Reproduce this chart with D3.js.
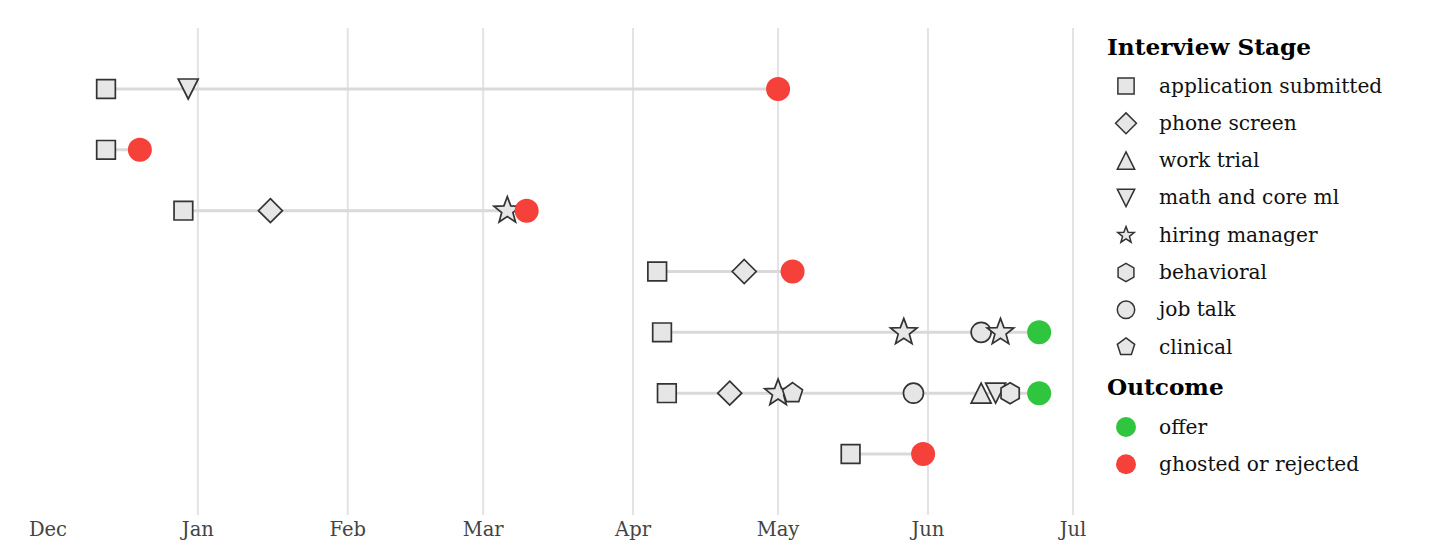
<!DOCTYPE html>
<html>
<head>
<meta charset="utf-8">
<script src="https://cdn.jsdelivr.net/npm/d3@7"></script>
<style>
  html, body { margin: 0; padding: 0; background: #fff; }
  text { font-family: "DejaVu Serif", serif; }
</style>
</head>
<body>
<div id="chart"></div>
<script>
// data
var stages = ["application submitted", "phone screen", "work trial", "math and core ml",
              "hiring manager", "behavioral", "job talk", "clinical"];
var outcomes = ["offer", "ghosted or rejected"];
var months = ["2022-12-01", "2023-01-01", "2023-02-01", "2023-03-01",
              "2023-04-01", "2023-05-01", "2023-06-01", "2023-07-01"];

// one array per application: [stage, date], outcome last
var app1 = [["application submitted", "2022-12-13"], ["math and core ml", "2022-12-30"],
            ["ghosted or rejected", "2023-05-01"]];
var app2 = [["application submitted", "2022-12-13"], ["ghosted or rejected", "2022-12-20"]];
var app3 = [["application submitted", "2022-12-29"], ["phone screen", "2023-01-16"],
            ["hiring manager", "2023-03-06"], ["ghosted or rejected", "2023-03-10"]];
var app4 = [["application submitted", "2023-04-06"], ["phone screen", "2023-04-24"],
            ["ghosted or rejected", "2023-05-04"]];
var app5 = [["application submitted", "2023-04-07"], ["hiring manager", "2023-05-27"],
            ["job talk", "2023-06-12"], ["hiring manager", "2023-06-16"], ["offer", "2023-06-24"]];
var app6 = [["application submitted", "2023-04-08"], ["phone screen", "2023-04-21"],
            ["hiring manager", "2023-05-01"], ["clinical", "2023-05-04"], ["job talk", "2023-05-29"],
            ["work trial", "2023-06-12"], ["math and core ml", "2023-06-15"],
            ["behavioral", "2023-06-18"], ["offer", "2023-06-24"]];
var app7 = [["application submitted", "2023-05-16"], ["ghosted or rejected", "2023-05-31"]];
var applications = [app1, app2, app3, app4, app5, app6, app7];

var parse = d3.timeParse("%Y-%m-%d");
var width = 1456, height = 560;

var svg = d3.select('#chart').append('svg')
    .attr('width', width).attr('height', height);

// scales
var x = d3.scaleTime()
    .domain([parse("2022-12-01"), parse("2023-07-01")])
    .range([48, 1073]);
var y = d3.scalePoint()
    .domain(d3.range(applications.length))
    .range([89, 454]);

var outcomeColor = d3.scaleOrdinal().domain(outcomes).range(["#2fc53e", "#f6403a"]);

// marker paths
function polygon(n, r, rot) {
    var pts = d3.range(n).map(function(i) {
        var a = rot + i * 2 * Math.PI / n;
        return [r * Math.sin(a), -r * Math.cos(a)];
    });
    return "M" + pts.join("L") + "Z";
}
function star(r) {
    var pts = d3.range(10).map(function(i) {
        var rr = i % 2 ? r * 0.42 : r;
        var a = i * Math.PI / 5;
        return [rr * Math.sin(a), -rr * Math.cos(a)];
    });
    return "M" + pts.join("L") + "Z";
}
function circle(r) {
    return "M" + (-r) + ",0A" + r + "," + r + " 0 1,0 " + r + ",0A" + r + "," + r + " 0 1,0 " + (-r) + ",0Z";
}
function triangle(h, dir) {
    return "M0," + (-h * dir) + "L" + h + "," + (h * dir) + "L" + (-h) + "," + (h * dir) + "Z";
}
function shape(name, k) {
    switch (name) {
        case "application submitted": return polygon(4, 13.2 * k, Math.PI / 4);
        case "phone screen": return polygon(4, 12 * k, 0);
        case "work trial": return triangle(10 * k, 1);
        case "math and core ml": return triangle(10 * k, -1);
        case "hiring manager": return star(14 * k);
        case "behavioral": return polygon(6, 10.5 * k, 0);
        case "job talk": return circle(10 * k);
        case "clinical": return polygon(5, 10.5 * k, 0);
    }
    return circle(12 * k);
}

// gridlines
svg.append('g').selectAll('line')
    .data(months.slice(1)).enter().append('line')
    .attr('x1', function(d) { return x(parse(d)); })
    .attr('x2', function(d) { return x(parse(d)); })
    .attr('y1', 28).attr('y2', 515)
    .attr('stroke', '#e3e3e3').attr('stroke-width', 2);

// month labels
svg.append('g').selectAll('text')
    .data(months).enter().append('text')
    .attr('x', function(d) { return x(parse(d)); })
    .attr('y', 536)
    .attr('text-anchor', 'middle')
    .attr('font-size', '19.5px')
    .attr('fill', '#444')
    .text(function(d) { return d3.timeFormat("%b")(parse(d)); });

// rows
var rows = svg.append('g').selectAll('g')
    .data(applications).enter().append('g')
    .attr('transform', function(d, i) { return "translate(0," + y(i) + ")"; });

rows.append('line')
    .attr('x1', function(d) { return x(parse(d[0][1])); })
    .attr('x2', function(d) { return x(parse(d[d.length - 1][1])); })
    .attr('stroke', '#d9d9d9').attr('stroke-width', 3);

rows.selectAll('path')
    .data(function(d) { return d; }).enter().append('path')
    .attr('transform', function(d) { return "translate(" + x(parse(d[1])) + ",0)"; })
    .attr('d', function(d) { return outcomes.indexOf(d[0]) >= 0 ? circle(12) : shape(d[0], 1); })
    .attr('fill', function(d) { return outcomes.indexOf(d[0]) >= 0 ? outcomeColor(d[0]) : '#e6e6e6'; })
    .attr('stroke', function(d) { return outcomes.indexOf(d[0]) >= 0 ? 'none' : '#333'; })
    .attr('stroke-width', 1.7)
    .attr('stroke-linejoin', 'miter');

// legend
var legend = svg.append('g').attr('transform', 'translate(1107,0)');
legend.append('text')
    .attr('x', 0).attr('y', 55)
    .attr('font-size', '23.2px').attr('font-weight', 'bold')
    .text('Interview Stage');

var stageItems = legend.selectAll('g.stage')
    .data(stages).enter().append('g')
    .attr('class', 'stage')
    .attr('transform', function(d, i) { return "translate(0," + (86 + i * 37.3) + ")"; });
stageItems.append('path')
    .attr('transform', 'translate(19,0)')
    .attr('d', function(d) { return shape(d, d === "hiring manager" ? 0.62 : 0.87); })
    .attr('fill', '#e6e6e6').attr('stroke', '#333').attr('stroke-width', 1.5);
stageItems.append('text')
    .attr('x', 52).attr('y', 6.5)
    .attr('font-size', '20.2px').attr('fill', '#111')
    .text(function(d) { return d; });

legend.append('text')
    .attr('x', 0).attr('y', 395)
    .attr('font-size', '23.2px').attr('font-weight', 'bold')
    .text('Outcome');

var outItems = legend.selectAll('g.outcome')
    .data(outcomes).enter().append('g')
    .attr('class', 'outcome')
    .attr('transform', function(d, i) { return "translate(0," + (427 + i * 37.3) + ")"; });
outItems.append('path')
    .attr('transform', 'translate(19,0)')
    .attr('d', circle(10))
    .attr('fill', function(d) { return outcomeColor(d); });
outItems.append('text')
    .attr('x', 52).attr('y', 6.5)
    .attr('font-size', '20.2px').attr('fill', '#111')
    .text(function(d) { return d; });
</script>
</body>
</html>
